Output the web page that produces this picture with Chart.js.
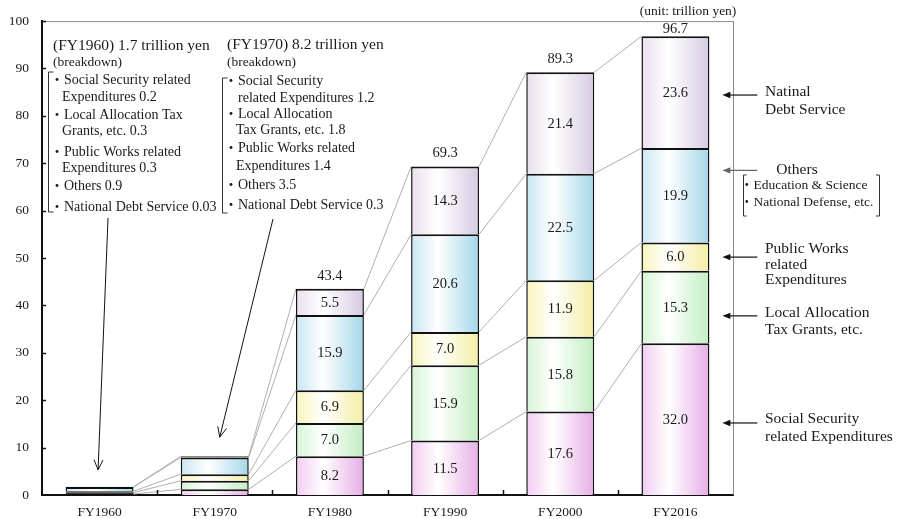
<!DOCTYPE html>
<html>
<head>
<meta charset="utf-8">
<script src="https://cdn.jsdelivr.net/npm/chart.js@4/dist/chart.umd.min.js"></script>
<style>
  html, body { margin: 0; padding: 0; background: #fff; }
  canvas { display: block; }
</style>
</head>
<body>
<canvas id="budget" width="899" height="519"></canvas>
<script>
// General account expenditure by fiscal year (trillion yen)
const years           = ['FY1960', 'FY1970', 'FY1980', 'FY1990', 'FY2000', 'FY2016'];
const socialSecurity  = [0.2, 1.2, 8.2, 11.5, 17.6, 32.0];
const localAllocation = [0.3, 1.8, 7.0, 15.9, 15.8, 15.3];
const publicWorks     = [0.3, 1.4, 6.9, 7.0, 11.9, 6.0];
const others          = [0.9, 3.5, 15.9, 20.6, 22.5, 19.9];
const debtService     = [0.03, 0.3, 5.5, 14.3, 21.4, 23.6];
const totals          = [1.7, 8.2, 43.4, 69.3, 89.3, 96.7];
const firstLabelled   = 2;   // segment values are written from FY1980 on

const SERIF = '"Liberation Serif", "Times New Roman", "Noto Sans CJK JP", serif';
const BAR_PCT = 0.59;
const OUTLINE = '#111';

// horizontal shading: tinted edges, white a little left of centre;
// segments thinner than their outline are simply drawn in the outline colour
function shade(left, right) {
  return (ctx) => {
    const chart = ctx.chart;
    const xs = chart.scales.x, ys = chart.scales.y;
    if (!xs || !ys || ctx.dataIndex === undefined || !xs.width) return right;
    const h = Math.abs(ys.getPixelForValue(0) - ys.getPixelForValue(ctx.raw));
    if (h < 2) return OUTLINE;
    const cx = xs.getPixelForValue(ctx.dataIndex);
    const w = xs.width / years.length * BAR_PCT;
    const g = chart.ctx.createLinearGradient(cx - w / 2, 0, cx + w / 2, 0);
    g.addColorStop(0, left);
    g.addColorStop(0.4, '#ffffff');
    g.addColorStop(1, right);
    return g;
  };
}

const seriesDefs = [
  { label: 'Social Security related Expenditures', data: socialSecurity,  l: '#f1ccf1', r: '#e6aee6' },
  { label: 'Local Allocation Tax Grants, etc.',    data: localAllocation, l: '#d6f5d6', r: '#c2eec2' },
  { label: 'Public Works related Expenditures',    data: publicWorks,     l: '#f8f5bc', r: '#f3eea4' },
  { label: 'Others',                               data: others,          l: '#cae7f2', r: '#a4d7e9' },
  { label: 'National Debt Service',                data: debtService,     l: '#e8e0ee', r: '#d6cbe1' }
];

const datasets = seriesDefs.map(s => ({
  label: s.label,
  data: s.data,
  backgroundColor: shade(s.l, s.r),
  borderColor: OUTLINE,
  borderWidth: { top: 2, right: 1.5, bottom: 0, left: 1.5 },
  borderSkipped: false,
  barPercentage: BAR_PCT,
  categoryPercentage: 1,
  inflateAmount: 0
}));

// grey lines joining matching segment boundaries of neighbouring bars
const connectors = {
  id: 'connectors',
  beforeDatasetsDraw(chart) {
    const { ctx } = chart;
    const n = years.length;
    const metas = chart.data.datasets.map((_, i) => chart.getDatasetMeta(i));
    ctx.save();
    ctx.strokeStyle = '#a6a6a6';
    ctx.lineWidth = 0.9;
    for (let i = 0; i < n - 1; i++) {
      for (let d = 0; d < metas.length; d++) {
        const a = metas[d].data[i], b = metas[d].data[i + 1];
        ctx.beginPath();
        ctx.moveTo(a.x + a.width / 2, a.y);
        ctx.lineTo(b.x - b.width / 2, b.y);
        ctx.stroke();
      }
    }
    ctx.restore();
  }
};

// segment values and bar totals
const valueLabels = {
  id: 'valueLabels',
  afterDatasetsDraw(chart) {
    const { ctx, chartArea } = chart;
    ctx.save();
    ctx.fillStyle = '#1a1a1a';
    ctx.textAlign = 'center';
    ctx.textBaseline = 'middle';
    ctx.font = '14.5px ' + SERIF;
    chart.data.datasets.forEach((ds, d) => {
      const meta = chart.getDatasetMeta(d);
      meta.data.forEach((bar, i) => {
        if (i < firstLabelled) return;
        ctx.fillText(ds.data[i].toFixed(1), bar.x, (bar.y + bar.base) / 2 + 1);
      });
    });
    const top = chart.getDatasetMeta(chart.data.datasets.length - 1);
    top.data.forEach((bar, i) => {
      if (i < firstLabelled) return;
      const y = Math.max(bar.y - 13, chartArea.top + 8);
      ctx.fillText(totals[i].toFixed(1), bar.x, y);
    });
    ctx.restore();
  }
};

// frame, inward tick marks and the explanatory notes
const notes = {
  id: 'notes',
  afterDraw(chart) {
    const { ctx, chartArea: ca, scales: { x, y } } = chart;
    const text = (s, px, py, size, align) => {
      ctx.font = size + 'px ' + SERIF;
      ctx.textAlign = align || 'left';
      ctx.fillText(s, px, py);
    };
    const line = (x1, y1, x2, y2) => {
      ctx.beginPath(); ctx.moveTo(x1, y1); ctx.lineTo(x2, y2); ctx.stroke();
    };
    ctx.save();

    // light frame on top and right
    ctx.strokeStyle = '#8a8a8a';
    ctx.lineWidth = 1;
    line(ca.left, ca.top + 0.5, ca.right + 0.5, ca.top + 0.5);
    line(ca.right + 0.5, ca.top, ca.right + 0.5, ca.bottom);

    // inward ticks
    ctx.strokeStyle = '#111';
    ctx.lineWidth = 1.5;
    y.ticks.forEach(t => {
      const py = Math.round(y.getPixelForValue(t.value)) + 0.5;
      if (t.value > 0) line(ca.left, py, ca.left + 4, py);
    });
    const step = (ca.right - ca.left) / years.length;
    for (let k = 1; k < years.length; k++) {
      const px = Math.round(ca.left + step * k) + 0.5;
      line(px, ca.bottom, px, ca.bottom - 5);
    }

    ctx.fillStyle = '#1a1a1a';
    ctx.textBaseline = 'middle';

    text('(unit: trillion yen)', 688, 11, 13.5, 'center');

    // FY1960 breakdown
    text('(FY1960) 1.7 trillion yen', 53, 46, 15.5);
    text('(breakdown)', 53, 62, 13.5);
    const n60 = [
      ['・Social Security related', 50, 80],
      ['Expenditures 0.2', 62, 97],
      ['・Local Allocation Tax', 50, 115],
      ['Grants, etc. 0.3', 62, 131],
      ['・Public Works related', 50, 152],
      ['Expenditures 0.3', 62, 168],
      ['・Others 0.9', 50, 186],
      ['・National Debt Service 0.03', 50, 207]
    ];
    n60.forEach(r => text(r[0], r[1], r[2], 14));

    // FY1970 breakdown
    text('(FY1970) 8.2 trillion yen', 227, 45, 15.5);
    text('(breakdown)', 227, 62, 13.5);
    const n70 = [
      ['・Social Security', 224, 81],
      ['related Expenditures 1.2', 238, 98],
      ['・Local Allocation', 224, 114],
      ['Tax Grants, etc. 1.8', 236, 130],
      ['・Public Works related', 224, 148],
      ['Expenditures 1.4', 236, 166],
      ['・Others 3.5', 224, 185],
      ['・National Debt Service 0.3', 224, 205]
    ];
    n70.forEach(r => text(r[0], r[1], r[2], 14));

    // brackets around the breakdowns
    ctx.strokeStyle = '#333';
    ctx.lineWidth = 1;
    const bracketL = (bx, y1, y2, hook) => {
      ctx.beginPath();
      ctx.moveTo(bx + hook, y1); ctx.lineTo(bx, y1); ctx.lineTo(bx, y2); ctx.lineTo(bx + hook, y2);
      ctx.stroke();
    };
    bracketL(48.5, 72, 212, 5);
    bracketL(222.5, 78, 213, 5);

    // arrows from the breakdowns down to the small bars
    const openArrow = (x1, y1, x2, y2) => {
      ctx.strokeStyle = '#111';
      ctx.lineWidth = 1;
      line(x1, y1, x2, y2);
      const a = Math.atan2(y2 - y1, x2 - x1), L = 11, s = 0.42;
      line(x2, y2, x2 - L * Math.cos(a - s), y2 - L * Math.sin(a - s));
      line(x2, y2, x2 - L * Math.cos(a + s), y2 - L * Math.sin(a + s));
    };
    openArrow(108, 218, x.getPixelForValue(0) - 1.5, y.getPixelForValue(5.3));
    openArrow(273, 219, x.getPixelForValue(1) + 5, y.getPixelForValue(12.2));

    // labels to the right of the FY2016 bar
    const lastBar = chart.getDatasetMeta(0).data[years.length - 1];
    const tipX = lastBar.x + lastBar.width / 2 + 13;
    const tailX = tipX + 35;
    const solidArrow = (level, colour) => {
      const py = y.getPixelForValue(level);
      ctx.strokeStyle = colour;
      ctx.fillStyle = colour;
      ctx.lineWidth = 1.2;
      line(tailX, py, tipX + 6, py);
      ctx.beginPath();
      ctx.moveTo(tipX, py); ctx.lineTo(tipX + 8, py - 3.2); ctx.lineTo(tipX + 8, py + 3.2);
      ctx.closePath(); ctx.fill();
    };
    solidArrow(84.4, '#111');
    solidArrow(68.5, '#666');
    solidArrow(50.2, '#111');
    solidArrow(37.8, '#111');
    solidArrow(15.2, '#111');

    ctx.fillStyle = '#1a1a1a';
    text('Natinal', 765, 92, 15.5);
    text('Debt Service', 765, 110, 15.5);
    text('Others', 797, 170, 15.5, 'center');
    text('・Education & Science', 740, 185, 13.5);
    text('・National Defense, etc.', 740, 202, 13.5);
    text('Public Works', 765, 249, 15.5);
    text('related', 765, 264.5, 15.5);
    text('Expenditures', 765, 280, 15.5);
    text('Local Allocation', 765, 313, 15.5);
    text('Tax Grants, etc.', 765, 330, 15.5);
    text('Social Security', 765, 419, 15.5);
    text('related Expenditures', 765, 437, 15.5);

    ctx.strokeStyle = '#333';
    ctx.lineWidth = 1;
    bracketL(743.5, 175, 216, 3);
    ctx.beginPath();
    ctx.moveTo(876, 175); ctx.lineTo(879.5, 175); ctx.lineTo(879.5, 216); ctx.lineTo(876, 216);
    ctx.stroke();

    ctx.restore();
  }
};

new Chart(document.getElementById('budget'), {
  type: 'bar',
  data: { labels: years, datasets },
  plugins: [connectors, valueLabels, notes],
  options: {
    responsive: false,
    animation: false,
    devicePixelRatio: 1,
    layout: { padding: { top: 20, right: 166, bottom: 0, left: 0 } },
    plugins: { legend: { display: false }, tooltip: { enabled: false } },
    scales: {
      x: {
        stacked: true,
        afterFit: s => { s.height = 24; },
        grid: { display: false, drawTicks: false },
        border: { display: true, color: '#111', width: 2 },
        ticks: { color: '#1a1a1a', padding: 9, font: { family: SERIF, size: 13.5 } }
      },
      y: {
        stacked: true,
        min: 0,
        max: 100,
        afterFit: s => { s.width = 42; },
        grid: { display: false, drawTicks: false },
        border: { display: true, color: '#111', width: 2 },
        ticks: { stepSize: 10, color: '#1a1a1a', padding: 13, font: { family: SERIF, size: 13.5 } }
      }
    }
  }
});
</script>
</body>
</html>
